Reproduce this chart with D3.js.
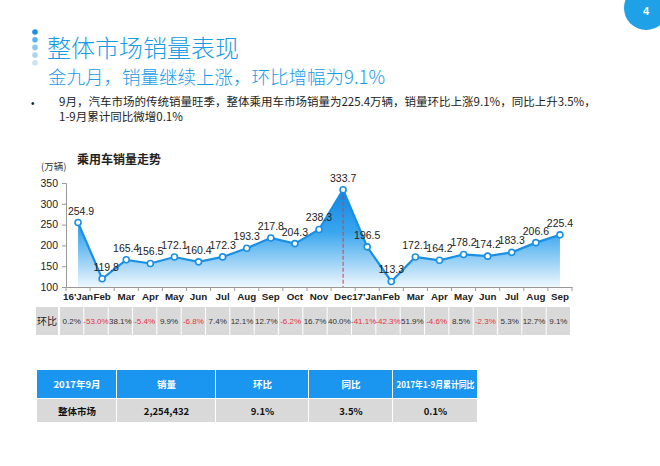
<!DOCTYPE html>
<html><head><meta charset="utf-8">
<script src="https://cdn.jsdelivr.net/npm/d3@7"></script>
<style>body{margin:0;background:#fff;}svg{display:block;}</style>
</head><body>
<svg id="c" width="660" height="466"></svg>
<script>
const months = ["16'Jan","Feb","Mar","Apr","May","Jun","Jul","Aug","Sep","Oct","Nov","Dec","17'Jan","Feb","Mar","Apr","May","Jun","Jul","Aug","Sep"];
const sales = [254.9,119.8,165.4,156.5,172.1,160.4,172.3,193.3,217.8,204.3,238.3,333.7,196.5,113.3,172.1,164.2,178.2,174.2,183.3,206.6,225.4];
const mom = ["0.2%","-53.0%","38.1%","-5.4%","9.9%","-6.8%","7.4%","12.1%","12.7%","-6.2%","16.7%","40.0%","-41.1%","-42.3%","51.9%","-4.6%","8.5%","-2.3%","5.3%","12.7%","9.1%"];
const yTicks = [100,150,200,250,300,350];
const tableHeader = ["2017年9月","销量","环比","同比","2017年1-9月累计同比"];
const tableRow = ["整体市场","2,254,432","9.1%","3.5%","0.1%"];
const peakIndex = 11;

const svg = d3.select("#c");
const CJK = "'Noto Sans CJK SC','Liberation Sans',sans-serif";
const LAT = "'Liberation Sans',Arial,sans-serif";

// page number circle
svg.append("circle").attr("cx",646).attr("cy",8).attr("r",22).attr("fill","#1ea1e6");
svg.append("text").attr("x",646).attr("y",15).attr("text-anchor","middle").attr("fill","#fff")
  .attr("font-family",LAT).attr("font-weight","bold").attr("font-size",11).text("4");

// decorative dots
const dotCols = ["#1a8fe3","#5fb3ec","#8ec8ef","#b0d6ef","#cde3f1"];
dotCols.forEach((c,i)=>svg.append("circle").attr("cx",35).attr("cy",32+i*7.7).attr("r",2.8).attr("fill",c));

svg.append("text").attr("x",47).attr("y",57).attr("fill","#1a9be6").attr("font-family",CJK)
  .attr("font-size",24).attr("font-weight",300).text("整体市场销量表现");
svg.append("text").attr("x",48).attr("y",84).attr("fill","#1a9be6").attr("font-family",CJK)
  .attr("font-size",18.5).attr("font-weight",300).text("金九月，销量继续上涨，环比增幅为9.1%");
svg.append("text").attr("x",31).attr("y",107).attr("fill","#222").attr("font-family",LAT).attr("font-size",10).text("•");
svg.append("text").attr("x",59).attr("y",106).attr("fill","#222").attr("font-family",CJK).attr("font-size",11.5)
  .text("9月，汽车市场的传统销量旺季，整体乘用车市场销量为225.4万辆，销量环比上涨9.1%，同比上升3.5%，");
svg.append("text").attr("x",59).attr("y",121).attr("fill","#222").attr("font-family",CJK).attr("font-size",11.5)
  .text("1-9月累计同比微增0.1%");

// chart
const x = d3.scaleBand().domain(d3.range(months.length)).range([66,572]);
const y = d3.scaleLinear().domain([100,350]).range([287,183]);
const cx = i => x(i)+x.bandwidth()/2;

svg.append("text").attr("x",77).attr("y",164).attr("font-family",CJK).attr("font-weight","bold")
  .attr("font-size",12).attr("fill","#222").text("乘用车销量走势");
svg.append("text").attr("x",41).attr("y",170).attr("font-family",CJK)
  .attr("font-size",9.5).attr("fill","#333").text("(万辆)");

const defs = svg.append("defs");
const g = defs.append("linearGradient").attr("id","ag").attr("gradientUnits","userSpaceOnUse")
  .attr("x1",0).attr("x2",0).attr("y1",y(340)).attr("y2",y(100));
g.append("stop").attr("offset","0%").attr("stop-color","#0b84e2");
g.append("stop").attr("offset","45%").attr("stop-color","#3aa6ee");
g.append("stop").attr("offset","100%").attr("stop-color","#eef7fd");

const area = d3.area().x((d,i)=>cx(i)).y0(y(100)).y1(d=>y(d));
svg.append("path").datum(sales).attr("d",area).attr("fill","url(#ag)");

// y axis
const ya = svg.append("g").attr("transform","translate(66,0)")
  .call(d3.axisLeft(y).tickValues(yTicks).tickSize(4).tickPadding(4));
ya.selectAll("text").attr("font-family",LAT).attr("font-size",10.5).attr("fill","#222");
ya.selectAll("line,path").attr("stroke","#999");

// x axis
const xa = svg.append("g").attr("transform","translate(0,287)")
  .call(d3.axisBottom(x).tickFormat(i=>months[i]).tickSize(0).tickPadding(6));
xa.selectAll("text").attr("font-family",LAT).attr("font-size",9.8).attr("font-weight","bold").attr("fill","#222");
xa.select("path").attr("stroke","#999");
xa.selectAll(".sep").data(d3.range(months.length+1)).enter().append("line")
  .attr("x1",i=>i<months.length?x(i):x.range()[1]).attr("x2",i=>i<months.length?x(i):x.range()[1])
  .attr("y1",0).attr("y2",4).attr("stroke","#999");

// peak dashed line
svg.append("line").attr("x1",cx(peakIndex)).attr("x2",cx(peakIndex))
  .attr("y1",y(sales[peakIndex])).attr("y2",y(100))
  .attr("stroke","#e03a3a").attr("stroke-dasharray","4,2").attr("stroke-width",1);

// line
svg.append("path").datum(sales).attr("d",d3.line().x((d,i)=>cx(i)).y(d=>y(d)))
  .attr("fill","none").attr("stroke","#1a8fe3").attr("stroke-width",2.2);
svg.selectAll(".pt").data(sales).enter().append("circle")
  .attr("cx",(d,i)=>cx(i)).attr("cy",d=>y(d)).attr("r",3).attr("fill","#fff")
  .attr("stroke","#1a8fe3").attr("stroke-width",1.6);
svg.selectAll(".lbl").data(sales).enter().append("text")
  .attr("x",(d,i)=>cx(i)+(i===0?3:i===1?4:0)).attr("y",d=>y(d)-8)
  .attr("text-anchor","middle").attr("font-family",LAT).attr("font-size",10.5).attr("fill","#222")
  .text(d=>d.toFixed(1));

// mom table
const tx = d3.scaleBand().domain(d3.range(mom.length)).range([59,570]);
const rowY = 307, rowH = 28;
svg.append("rect").attr("x",36).attr("y",rowY).attr("width",22).attr("height",rowH).attr("fill","#d9d9d9");
svg.append("text").attr("x",47).attr("y",rowY+rowH/2+4).attr("text-anchor","middle").attr("font-family",CJK)
  .attr("font-size",10).attr("fill","#222").text("环比");
svg.selectAll(".mc").data(mom).enter().append("rect")
  .attr("x",(d,i)=>tx(i)+1).attr("y",rowY).attr("width",tx.bandwidth()-1).attr("height",rowH).attr("fill","#d9d9d9");
svg.selectAll(".mt").data(mom).enter().append("text")
  .attr("x",(d,i)=>tx(i)+tx.bandwidth()/2+0.5).attr("y",rowY+rowH/2+3)
  .attr("text-anchor","middle").attr("font-family",LAT).attr("font-size",8)
  .attr("fill",d=>d.startsWith("-")?"#e8323c":"#333").text(d=>d);

// bottom table
const cols = [37,117,216,309,393,478];
const hY = 370, hH = 28, bH = 23;
tableHeader.forEach((t,i)=>{
  svg.append("rect").attr("x",cols[i]).attr("y",hY).attr("width",cols[i+1]-cols[i]-1).attr("height",hH).attr("fill","#1a96f0");
  const ht = svg.append("text").attr("x",(cols[i]+cols[i+1])/2).attr("y",hY+hH/2+4).attr("text-anchor","middle")
    .attr("font-family",CJK).attr("font-weight","bold").attr("font-size",9.5).attr("fill","#fff").text(t);
  if (i===4) ht.attr("textLength",78).attr("lengthAdjust","spacingAndGlyphs");
  svg.append("rect").attr("x",cols[i]).attr("y",hY+hH+1).attr("width",cols[i+1]-cols[i]-1).attr("height",bH).attr("fill","#d9d9d9");
  svg.append("text").attr("x",(cols[i]+cols[i+1])/2).attr("y",hY+hH+1+bH/2+4).attr("text-anchor","middle")
    .attr("font-family",CJK).attr("font-weight","bold").attr("font-size",9.5).attr("fill","#111").text(tableRow[i]);
});
</script>
</body></html>
